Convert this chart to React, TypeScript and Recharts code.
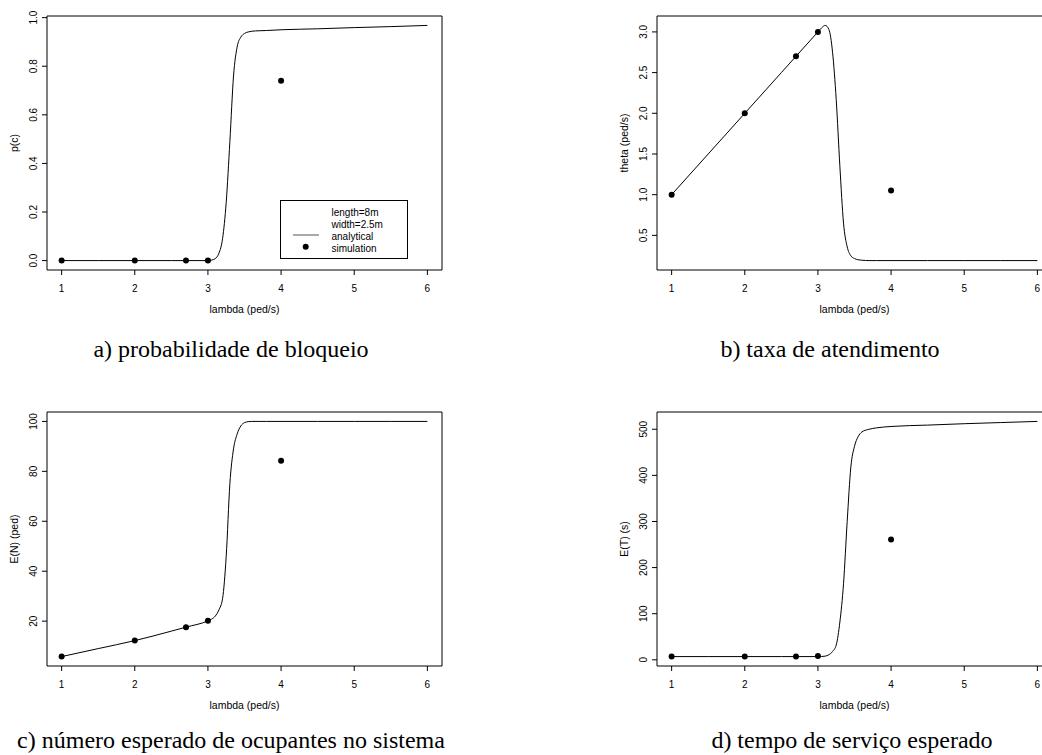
import React from "react";
import { ComposedChart, Line, Scatter, XAxis, YAxis, ReferenceArea, Legend } from "recharts";

const lambdaGrid = [1, 1.5, 2, 2.5, 2.7, 3, 3.05, 3.1, 3.15, 3.2, 3.25, 3.3, 3.35, 3.4, 3.45, 3.5, 3.55, 3.6, 3.7, 3.8, 4, 4.5, 5, 5.5, 6];

const blockingAnalytical = [0, 0, 0, 0, 0, 0, 0.002, 0.008, 0.03, 0.09, 0.24, 0.49, 0.76, 0.88, 0.92, 0.935, 0.941, 0.944, 0.946, 0.947, 0.95, 0.954, 0.959, 0.963, 0.968];
const throughputAnalytical = [1.0, 1.5, 2.0, 2.5, 2.7, 3.0, 3.05, 3.08, 3.03, 2.75, 2.17, 1.35, 0.65, 0.36, 0.25, 0.215, 0.2, 0.195, 0.19, 0.19, 0.19, 0.19, 0.19, 0.19, 0.19];
const occupantsAnalytical = [5.8, 9.0, 12.2, 16.0, 17.6, 20.1, 20.8, 22.0, 24.5, 29, 46, 75, 89, 95, 98.2, 99.5, 99.9, 100, 100, 100, 100, 100, 100, 100, 100];
const serviceTimeAnalytical = [7, 7, 7, 7, 7, 7, 7.2, 8, 11, 18, 32, 82, 165, 300, 418, 463, 484, 494, 500, 503, 506, 509, 512, 514.5, 517];

// simulation runs
const lambdaSim = [1, 2, 2.7, 3, 4];
const blockingSim = [0, 0, 0, 0, 0.74];
const throughputSim = [1.0, 2.0, 2.7, 3.0, 1.05];
const occupantsSim = [5.8, 12.2, 17.6, 20.2, 84.2];
const serviceTimeSim = [7, 7, 7, 8.5, 261];

const xTicks = [1, 2, 3, 4, 5, 6];
const blockingTicks = [0, 0.2, 0.4, 0.6, 0.8, 1.0];
const throughputTicks = [0.5, 1.0, 1.5, 2.0, 2.5, 3.0];
const occupantsTicks = [20, 40, 60, 80, 100];
const serviceTimeTicks = [0, 100, 200, 300, 400, 500];

const legendLines = ["length=8m", "width=2.5m", "analytical", "simulation"];

const axisFont = '"Liberation Sans", Arial, Helvetica, sans-serif';
const captionFont = '"Liberation Serif", "Times New Roman", Times, serif';

// R style axis range: data range padded by 4% on each side
function rRange(values: number[]): [number, number] {
  const lo = Math.min(...values);
  const hi = Math.max(...values);
  const pad = (hi - lo) * 0.04;
  return [lo - pad, hi + pad];
}

const YTick = (props: any) => {
  const { x, y, payload, digits } = props;
  return (
    <text
      x={x}
      y={y}
      transform={`rotate(-90 ${x} ${y})`}
      textAnchor="middle"
      fontSize={10}
      fontFamily={axisFont}
      fill="#000"
    >
      {Number(payload.value).toFixed(digits)}
    </text>
  );
};

const SimDot = (props: any) => <circle cx={props.cx} cy={props.cy} r={3} fill="#000" />;

const LegendBox = () => (
  <div
    style={{
      width: 128,
      height: 59,
      border: "1px solid #000",
      boxSizing: "border-box",
      position: "relative",
      background: "#fff",
      fontFamily: axisFont,
      fontSize: 10,
      lineHeight: "12px",
      color: "#000",
    }}
  >
    <svg width={45} height={57} style={{ position: "absolute", left: 0, top: 0 }}>
      <line x1={12} x2={38} y1={34} y2={34} stroke="#555" strokeWidth={1} />
      <circle cx={24.7} cy={45.7} r={3} fill="#000" />
    </svg>
    <div style={{ position: "absolute", left: 50.5, top: 5.5, whiteSpace: "nowrap" }}>
      {legendLines.map((t) => (
        <div key={t}>{t}</div>
      ))}
    </div>
  </div>
);

type PanelProps = {
  left: number;
  top: number;
  yLabel: string;
  curve: number[];
  sim: number[];
  yTicks: number[];
  digits: number;
  showLegend?: boolean;
};

function Panel({ left, top, yLabel, curve, sim, yTicks, digits, showLegend }: PanelProps) {
  const lineData = lambdaGrid.map((x, i) => ({ x, y: curve[i] }));
  const simData = lambdaSim.map((x, i) => ({ x, y: sim[i] }));
  const xDomain = rRange([...lambdaGrid, ...lambdaSim]);
  const yDomain = rRange([...curve, ...sim]);

  const xTitle = (p: any) => {
    const vb = p.viewBox || { x: 47, y: 270, width: 395, height: 60 };
    return (
      <text x={vb.x + vb.width / 2} y={vb.y + 43} textAnchor="middle" fontSize={10.5} fontFamily={axisFont} fill="#000">
        lambda (ped/s)
      </text>
    );
  };
  const yTitle = (p: any) => {
    const vb = p.viewBox || { x: 0, y: 16, width: 47, height: 254 };
    const cx = vb.x + 13.5;
    const cy = vb.y + vb.height / 2;
    return (
      <text
        x={cx}
        y={cy}
        transform={`rotate(-90 ${cx} ${cy})`}
        textAnchor="middle"
        dominantBaseline="central"
        fontSize={10.5}
        fontFamily={axisFont}
        fill="#000"
      >
        {yLabel}
      </text>
    );
  };

  return (
    <div style={{ position: "absolute", left, top }}>
      <ComposedChart width={460} height={330} margin={{ top: 16, right: 18, bottom: 0, left: 0 }}>
        <XAxis
          type="number"
          dataKey="x"
          domain={xDomain}
          ticks={xTicks}
          allowDataOverflow
          axisLine={false}
          tickLine={{ stroke: "#000" }}
          tickSize={5}
          tickMargin={10}
          tick={{ fill: "#000", fontSize: 10, fontFamily: axisFont }}
          height={60}
          label={{ content: xTitle }}
        />
        <YAxis
          type="number"
          dataKey="y"
          domain={yDomain}
          ticks={yTicks}
          allowDataOverflow
          axisLine={false}
          tickLine={{ stroke: "#000" }}
          tickSize={5}
          tickMargin={5}
          width={47}
          tick={<YTick digits={digits} />}
          label={{ content: yTitle }}
        />
        <ReferenceArea
          x1={xDomain[0]}
          x2={xDomain[1]}
          y1={yDomain[0]}
          y2={yDomain[1]}
          fill="none"
          fillOpacity={0}
          stroke="#000"
          strokeWidth={1}
          strokeOpacity={1}
        />
        <Line
          data={lineData}
          dataKey="y"
          type="monotone"
          stroke="#000"
          strokeWidth={1}
          dot={false}
          activeDot={false}
          isAnimationActive={false}
          name="analytical"
        />
        <Scatter data={simData} dataKey="y" fill="#000" shape={SimDot} isAnimationActive={false} name="simulation" />
        {showLegend && (
          <Legend
            layout="horizontal"
            verticalAlign="middle"
            align="center"
            wrapperStyle={{ left: 280, top: 200, width: 128, height: 59 }}
            content={() => <LegendBox />}
          />
        )}
      </ComposedChart>
    </div>
  );
}

const Caption = ({ text, cx, top }: { text: string; cx: number; top: number }) => (
  <div
    style={{
      position: "absolute",
      left: cx - 260,
      width: 520,
      top,
      textAlign: "center",
      fontFamily: captionFont,
      fontSize: 24,
      lineHeight: "24px",
      color: "#000",
      whiteSpace: "nowrap",
    }}
  >
    {text}
  </div>
);

export default function App() {
  return (
    <div
      style={{
        position: "absolute",
        left: 0,
        top: 0,
        width: 1042,
        height: 755,
        overflow: "hidden",
        background: "#fff",
      }}
    >
      <Panel left={0} top={0} yLabel="p(c)" curve={blockingAnalytical} sim={blockingSim} yTicks={blockingTicks} digits={1} showLegend />
      <Panel left={610} top={0} yLabel="theta (ped/s)" curve={throughputAnalytical} sim={throughputSim} yTicks={throughputTicks} digits={1} />
      <Panel left={0} top={396} yLabel="E(N) (ped)" curve={occupantsAnalytical} sim={occupantsSim} yTicks={occupantsTicks} digits={0} />
      <Panel left={610} top={396} yLabel="E(T) (s)" curve={serviceTimeAnalytical} sim={serviceTimeSim} yTicks={serviceTimeTicks} digits={0} />

      <Caption text="a) probabilidade de bloqueio" cx={231} top={337} />
      <Caption text="b) taxa de atendimento" cx={830} top={337} />
      <Caption text="c) número esperado de ocupantes no sistema" cx={231} top={728} />
      <Caption text="d) tempo de serviço esperado" cx={852} top={728} />
    </div>
  );
}
